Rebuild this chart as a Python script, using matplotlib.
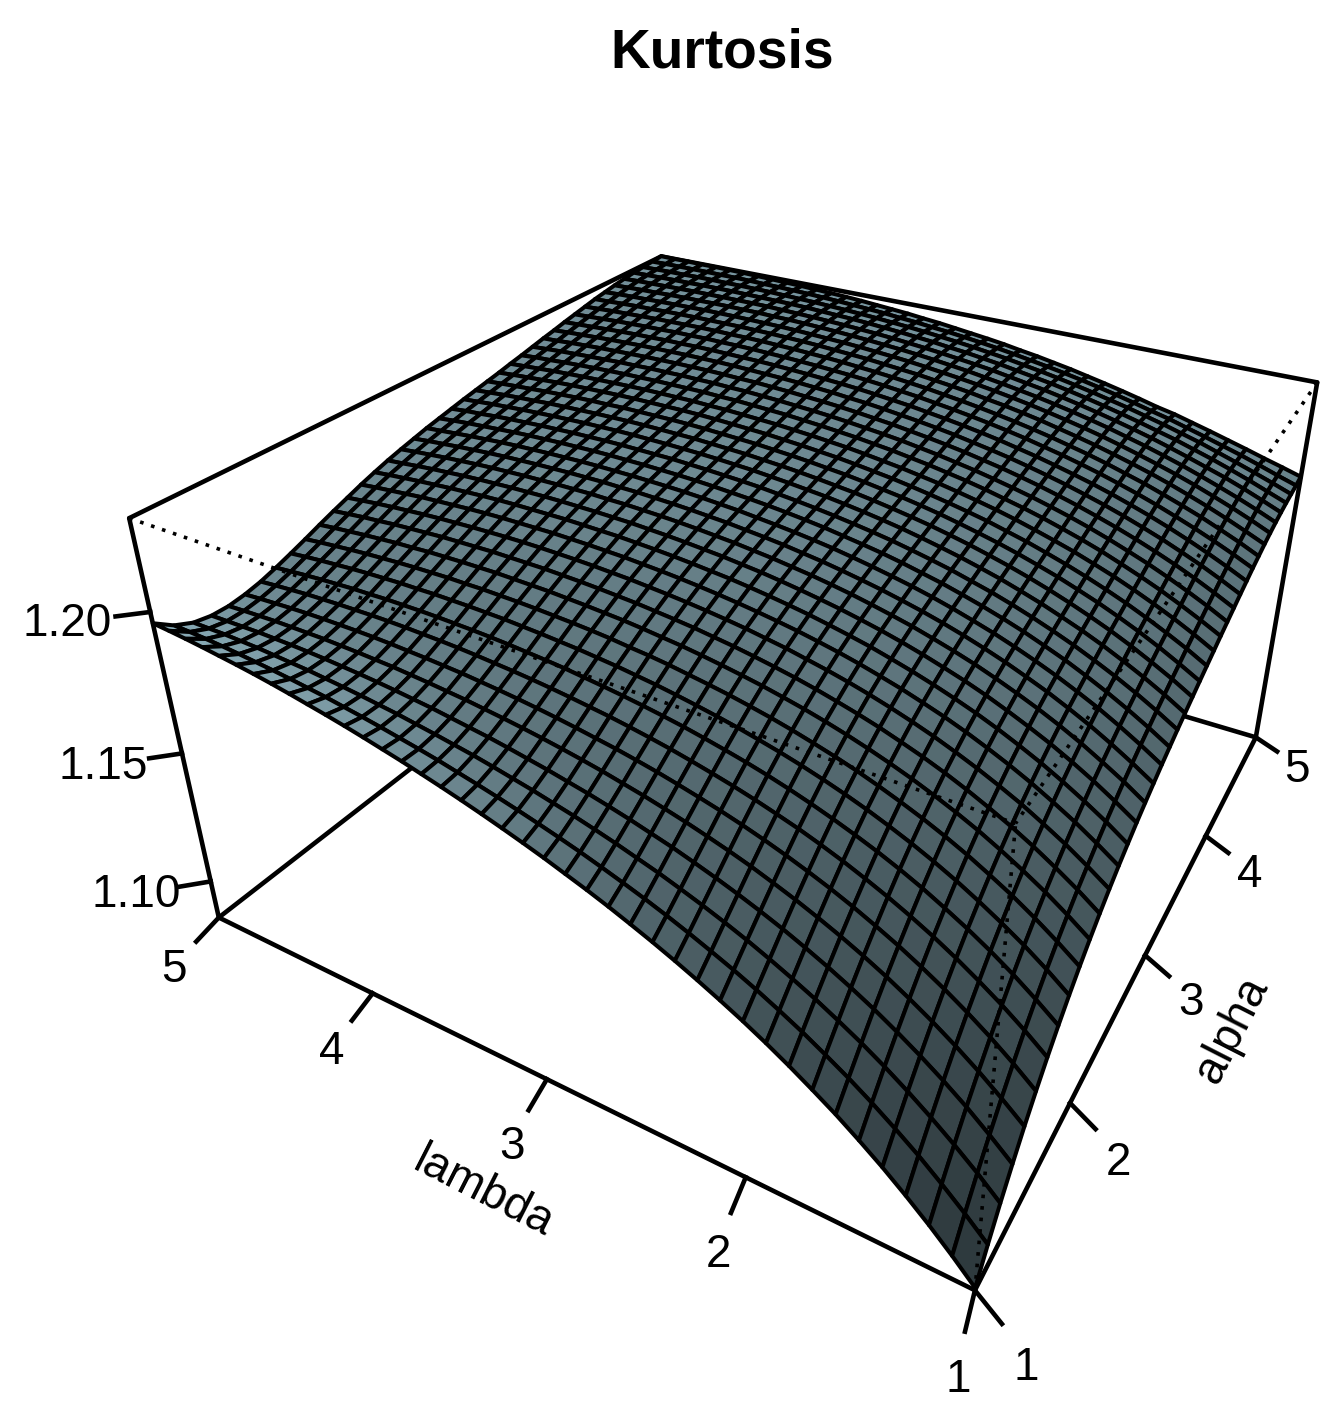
import numpy as np
import matplotlib
matplotlib.use('Agg')
import matplotlib.pyplot as plt
from matplotlib.collections import PolyCollection

plt.rcParams['font.family'] = ['Liberation Sans']

title = 'Kurtosis'
x_label = 'lambda'
y_label = 'alpha'
axis_ticks = [1, 2, 3, 4, 5]
z_ticks = [1.10, 1.15, 1.20]
z_lim = (1.085, 1.2305)
lam = [1 + 0.1 * k for k in range(41)]
alpha = [1 + 0.1 * k for k in range(41)]

# kurtosis, as (value - 1.08) * 10000; one row per lambda, one column per alpha
kurtosis_e4 = [
[59,143,221,292,359,419,475,526,573,616,655,691,724,754,781,807,830,852,873,892,911,928,945,962,978,994,1010,1025,1040,1055,1069,1083,1095,1107,1117,1126,1133,1139,1143,1147,1152],
[134,214,289,357,421,480,534,583,629,670,708,743,774,803,830,854,877,897,917,935,953,970,986,1001,1017,1032,1046,1061,1075,1089,1102,1115,1127,1137,1147,1155,1161,1165,1168,1169,1172],
[204,280,351,418,479,536,588,636,680,720,757,790,821,849,874,898,919,939,958,975,992,1008,1023,1038,1052,1067,1080,1094,1108,1121,1133,1145,1156,1166,1175,1182,1188,1191,1192,1192,1191],
[269,342,409,473,532,587,637,684,726,766,801,834,863,890,915,938,959,978,996,1012,1028,1043,1058,1072,1085,1099,1112,1125,1138,1150,1162,1173,1184,1193,1201,1207,1213,1215,1215,1214,1211],
[330,398,463,524,581,634,683,728,769,807,842,874,903,929,953,975,995,1013,1030,1046,1061,1076,1090,1103,1116,1129,1141,1154,1166,1178,1189,1199,1209,1218,1226,1231,1235,1238,1237,1234,1230],
[386,451,513,571,626,677,725,768,809,846,880,910,938,964,987,1008,1028,1046,1062,1078,1092,1106,1119,1132,1144,1157,1168,1180,1192,1203,1214,1224,1233,1242,1249,1254,1257,1259,1259,1254,1249],
[439,500,559,615,668,717,763,806,845,881,914,944,971,996,1019,1039,1058,1075,1091,1106,1120,1133,1146,1158,1170,1182,1194,1205,1216,1227,1237,1247,1256,1264,1270,1275,1278,1280,1278,1273,1267],
[487,545,601,655,706,753,798,840,878,913,945,975,1001,1026,1048,1068,1086,1103,1118,1133,1146,1159,1171,1183,1194,1206,1217,1228,1238,1249,1259,1268,1276,1284,1290,1295,1298,1298,1297,1292,1285],
[533,588,641,692,741,787,830,871,908,942,974,1003,1029,1053,1074,1094,1112,1128,1143,1157,1170,1182,1194,1205,1216,1227,1238,1249,1259,1269,1279,1288,1296,1303,1309,1313,1316,1316,1314,1308,1299],
[576,627,677,726,773,818,860,899,936,969,1000,1028,1054,1077,1098,1117,1135,1151,1165,1179,1192,1204,1215,1226,1237,1247,1258,1268,1278,1288,1297,1306,1314,1321,1327,1331,1333,1333,1331,1325,1316],
[616,664,711,758,803,846,887,925,961,994,1024,1052,1077,1100,1120,1139,1156,1172,1186,1199,1211,1223,1234,1245,1255,1266,1276,1286,1296,1305,1314,1323,1330,1337,1343,1347,1349,1349,1346,1341,1332],
[653,698,743,787,830,872,912,949,984,1016,1046,1073,1098,1120,1140,1159,1176,1191,1205,1218,1230,1241,1252,1262,1273,1283,1292,1302,1312,1321,1330,1338,1346,1352,1358,1362,1364,1364,1361,1356,1347],
[688,729,772,814,856,896,934,971,1005,1036,1066,1092,1117,1139,1159,1177,1193,1208,1222,1234,1246,1257,1268,1278,1288,1298,1308,1317,1327,1336,1344,1353,1360,1367,1372,1376,1378,1378,1375,1370,1361],
[721,759,799,839,879,918,955,991,1024,1055,1084,1110,1134,1156,1175,1193,1209,1224,1237,1250,1261,1272,1283,1293,1302,1312,1322,1331,1340,1349,1358,1366,1373,1380,1385,1389,1391,1391,1388,1383,1375],
[752,787,824,862,900,938,974,1009,1041,1072,1100,1126,1149,1171,1190,1208,1224,1238,1251,1264,1275,1286,1296,1306,1315,1325,1334,1343,1353,1361,1370,1378,1385,1392,1397,1400,1402,1402,1400,1395,1387],
[781,813,848,884,920,956,991,1025,1057,1087,1115,1140,1164,1185,1204,1221,1237,1251,1264,1276,1287,1298,1308,1318,1327,1336,1346,1355,1364,1373,1381,1389,1396,1402,1408,1411,1413,1413,1411,1406,1399],
[809,837,869,903,938,973,1007,1040,1071,1101,1128,1153,1176,1197,1216,1233,1249,1263,1276,1287,1298,1309,1319,1328,1338,1347,1356,1365,1374,1383,1391,1399,1406,1413,1418,1421,1424,1424,1422,1417,1409],
[835,860,890,922,955,989,1022,1054,1084,1113,1140,1165,1188,1208,1227,1244,1259,1273,1286,1298,1308,1319,1329,1338,1347,1356,1366,1375,1383,1392,1400,1408,1415,1422,1427,1431,1433,1433,1431,1427,1420],
[859,882,909,939,970,1003,1035,1066,1096,1124,1151,1175,1198,1218,1237,1254,1269,1283,1295,1307,1317,1328,1337,1347,1356,1365,1374,1383,1392,1400,1409,1417,1424,1430,1435,1439,1441,1442,1440,1436,1429],
[883,902,927,955,985,1016,1047,1077,1107,1135,1161,1185,1207,1227,1246,1262,1277,1291,1303,1315,1325,1335,1345,1354,1364,1373,1382,1390,1399,1408,1416,1424,1431,1438,1443,1447,1449,1449,1448,1444,1437],
[905,921,943,969,998,1027,1058,1087,1116,1144,1169,1193,1215,1235,1253,1270,1285,1298,1310,1322,1332,1342,1352,1361,1370,1379,1388,1397,1406,1415,1423,1431,1438,1444,1450,1454,1456,1457,1455,1452,1445],
[926,939,959,983,1010,1038,1067,1096,1125,1151,1177,1200,1222,1242,1260,1276,1291,1305,1317,1328,1339,1348,1358,1367,1376,1385,1394,1403,1412,1420,1429,1437,1444,1450,1456,1460,1462,1463,1462,1458,1453],
[946,956,973,995,1021,1048,1076,1104,1132,1159,1184,1207,1228,1248,1266,1282,1297,1310,1322,1333,1344,1354,1363,1372,1381,1390,1399,1408,1417,1426,1434,1442,1449,1456,1461,1465,1468,1469,1468,1465,1459],
[965,972,987,1007,1031,1057,1084,1112,1139,1165,1189,1212,1234,1253,1271,1287,1302,1315,1327,1338,1348,1358,1368,1377,1386,1395,1404,1412,1421,1430,1438,1446,1454,1460,1466,1470,1473,1474,1473,1470,1466],
[983,987,1000,1018,1040,1065,1091,1118,1144,1170,1194,1217,1238,1258,1275,1291,1306,1319,1331,1342,1352,1362,1371,1380,1389,1398,1407,1416,1425,1434,1442,1450,1458,1464,1470,1474,1477,1479,1478,1476,1471],
[1000,1002,1011,1027,1048,1072,1097,1123,1149,1174,1198,1221,1242,1261,1279,1295,1309,1322,1334,1345,1355,1365,1374,1383,1392,1401,1410,1419,1428,1437,1445,1453,1461,1468,1473,1478,1481,1483,1482,1480,1476],
[1017,1015,1022,1036,1056,1078,1102,1128,1153,1178,1202,1224,1245,1264,1281,1297,1312,1325,1336,1347,1358,1367,1377,1386,1395,1404,1413,1422,1431,1439,1448,1456,1464,1471,1476,1481,1484,1486,1486,1484,1481],
[1032,1027,1032,1045,1062,1084,1107,1132,1157,1181,1204,1227,1247,1266,1283,1299,1313,1326,1338,1349,1359,1369,1378,1388,1397,1405,1414,1423,1432,1441,1450,1458,1466,1473,1479,1484,1487,1489,1489,1488,1485],
[1047,1039,1042,1052,1068,1088,1111,1135,1159,1183,1206,1228,1249,1268,1285,1300,1315,1328,1339,1350,1360,1370,1379,1389,1398,1407,1416,1425,1434,1443,1451,1460,1468,1475,1481,1486,1489,1492,1492,1491,1488],
[1061,1050,1050,1059,1073,1092,1114,1137,1161,1185,1208,1229,1250,1268,1285,1301,1315,1328,1340,1351,1361,1371,1380,1389,1398,1407,1416,1425,1435,1444,1452,1461,1469,1476,1482,1487,1491,1494,1494,1494,1491],
[1074,1060,1058,1065,1078,1095,1116,1139,1162,1185,1208,1230,1250,1268,1285,1301,1315,1328,1340,1351,1361,1371,1380,1389,1398,1407,1416,1426,1435,1444,1453,1461,1469,1477,1483,1489,1493,1495,1496,1496,1494],
[1086,1070,1065,1070,1081,1098,1118,1140,1163,1186,1208,1229,1249,1268,1285,1300,1314,1327,1339,1350,1360,1370,1379,1389,1398,1407,1416,1425,1435,1444,1453,1462,1470,1477,1484,1489,1494,1496,1498,1498,1496],
[1098,1078,1071,1074,1084,1100,1119,1140,1162,1185,1207,1228,1248,1267,1284,1299,1313,1326,1338,1349,1359,1369,1378,1387,1397,1406,1415,1425,1434,1443,1452,1461,1470,1477,1484,1490,1494,1497,1499,1499,1498],
[1109,1086,1077,1078,1086,1101,1119,1140,1162,1184,1206,1227,1246,1265,1282,1297,1311,1324,1336,1347,1357,1367,1376,1386,1395,1404,1414,1423,1433,1442,1452,1461,1469,1477,1484,1490,1494,1498,1500,1501,1500],
[1119,1093,1081,1081,1088,1101,1118,1138,1160,1182,1203,1224,1244,1262,1279,1295,1309,1322,1334,1345,1355,1365,1374,1384,1393,1402,1412,1422,1431,1441,1450,1459,1468,1476,1483,1489,1494,1498,1500,1502,1502],
[1128,1099,1085,1083,1088,1101,1117,1137,1158,1179,1201,1221,1241,1259,1276,1292,1306,1319,1331,1342,1352,1362,1372,1381,1391,1400,1410,1419,1429,1439,1449,1458,1467,1475,1482,1489,1494,1498,1501,1502,1503],
[1136,1105,1089,1084,1088,1100,1115,1134,1155,1176,1197,1218,1237,1256,1272,1288,1302,1315,1327,1338,1349,1359,1368,1378,1388,1397,1407,1417,1427,1437,1447,1456,1465,1473,1481,1488,1493,1497,1501,1503,1504],
[1144,1110,1091,1085,1088,1098,1113,1131,1151,1172,1193,1213,1233,1251,1268,1284,1298,1311,1323,1334,1345,1355,1365,1374,1384,1394,1404,1414,1424,1434,1444,1454,1463,1472,1479,1486,1492,1497,1500,1503,1504],
[1151,1114,1093,1084,1086,1095,1109,1127,1147,1167,1188,1209,1228,1246,1263,1279,1293,1306,1318,1330,1340,1351,1361,1370,1380,1390,1400,1411,1421,1431,1441,1451,1461,1470,1478,1485,1491,1496,1500,1503,1505],
[1157,1117,1093,1083,1084,1092,1105,1122,1142,1162,1183,1203,1222,1241,1258,1273,1288,1301,1313,1325,1336,1346,1356,1366,1376,1386,1397,1407,1417,1428,1438,1448,1458,1467,1476,1483,1490,1495,1499,1503,1505],
[1162,1119,1093,1082,1081,1088,1100,1117,1136,1156,1177,1197,1216,1235,1252,1268,1282,1295,1308,1319,1330,1341,1351,1361,1371,1382,1392,1403,1414,1424,1435,1445,1455,1465,1473,1481,1488,1494,1498,1502,1506],
]

# camera: homogeneous view matrix for the unit-cube coordinates of the persp box
camera = np.array([[-258.8305535, 358.3228177, -52.5357216, 779.0376633],
                   [-34.9053849, -59.1456305, -230.2372388, 644.5783342],
                   [0.1145010, 0.2013463, -0.0667503, 1.0]])

L0, L1 = min(lam), max(lam)
A0, A1 = min(alpha), max(alpha)
z0, z1 = z_lim
lr, ar = L1 - L0, A1 - A0


def unit(l, a, z):
    l, a, z = np.asarray(l, float), np.asarray(a, float), np.asarray(z, float)
    return 2 * (l - L0) / lr - 1, 2 * (a - A0) / ar - 1, 2 * (z - z0) / (z1 - z0) - 1


def proj(l, a, z):
    x, y, w = unit(l, a, z)
    H = np.stack([x, y, w, np.ones_like(x * y * w)], -1) @ camera.T
    return H[..., 0] / H[..., 2], H[..., 1] / H[..., 2]


fig = plt.figure(figsize=(13.44, 14.14), dpi=100)
ax = fig.add_axes([0, 0, 1, 1])
ax.set_xlim(0, 1344)
ax.set_ylim(1414, 0)
ax.axis('off')

LW_BOX = 3.3


def edge(p, q, **kw):
    x, y = proj(*zip(p, q))
    ax.plot(x, y, color='k', **kw)


for p, q in [((L1, A0, z0), (L1, A1, z0)), ((L1, A1, z0), (L0, A1, z0)),
             ((L1, A0, z0), (L0, A0, z0)), ((L0, A0, z0), (L0, A1, z0)),
             ((L1, A0, z0), (L1, A0, z1)), ((L0, A1, z0), (L0, A1, z1)),
             ((L1, A0, z1), (L1, A1, z1)), ((L1, A1, z1), (L0, A1, z1))]:
    edge(p, q, lw=LW_BOX, zorder=1, solid_capstyle='round')

Z = 1.08 + np.array(kurtosis_e4, float) / 1e4
LL, AA = np.meshgrid(lam, alpha, indexing='ij')
X, Y = proj(LL, AA, Z)
UX, UY, UZ = unit(LL, AA, Z)

base = np.array([173, 216, 230]) / 255
light = np.array([0.35, 0.6, 0.72])
light = light / np.linalg.norm(light)
polys, colors, depth = [], [], []
n_l, n_a = Z.shape
for i in range(n_l - 1):
    for j in range(n_a - 1):
        polys.append([(X[i, j], Y[i, j]), (X[i + 1, j], Y[i + 1, j]),
                      (X[i + 1, j + 1], Y[i + 1, j + 1]), (X[i, j + 1], Y[i, j + 1])])
        dx = UX[i + 1, j] - UX[i, j]
        dy = UY[i, j + 1] - UY[i, j]
        zl = (UZ[i + 1, j] + UZ[i + 1, j + 1] - UZ[i, j] - UZ[i, j + 1]) / 2 / dx
        za = (UZ[i, j + 1] + UZ[i + 1, j + 1] - UZ[i, j] - UZ[i + 1, j]) / 2 / dy
        n = np.array([-0.5 * zl, -0.5 * za, 1.0])
        n = n / np.linalg.norm(n)
        colors.append(base * ((1 + n @ light) / 2) ** 1.3 * 0.84)
        depth.append(camera[2, 0] * (UX[i, j] + UX[i + 1, j]) / 2 + camera[2, 1] * (UY[i, j] + UY[i, j + 1]) / 2)
order = np.argsort(depth)[::-1]
ax.add_collection(PolyCollection([polys[k] for k in order],
                                 facecolors=[colors[k] for k in order],
                                 edgecolors='k', linewidths=2.9, joinstyle='round', zorder=2))

for p, q in [((L1, A0, z1), (L0, A0, z1)), ((L0, A1, z1), (L0, A0, z1)), ((L0, A0, z0), (L0, A0, z1))]:
    edge(p, q, lw=2.6, linestyle=(0, (1, 2.2)), zorder=3)

FS = 33
for v in axis_ticks:
    x, y = proj([v, v - 0.035], [A0, A0 - 0.17], [z0, z0])
    ax.plot(x, y, 'k', lw=LW_BOX, zorder=1)
    x, y = proj(v - 0.09, A0 - 0.35, z0)
    ax.text(x, y, str(v), fontsize=FS, ha='center', va='center')
    x, y = proj([L0, L0 - 0.14], [v, v - 0.075], [z0, z0])
    ax.plot(x, y, 'k', lw=LW_BOX, zorder=1)
    x, y = proj(L0 - 0.28, v - 0.19, z0)
    ax.text(x, y, str(v), fontsize=FS, ha='center', va='center')
for v in z_ticks:
    x, y = proj([L1, L1 + 0.1], [A0, A0 - 0.1], [v, v])
    ax.plot(x, y, 'k', lw=LW_BOX, zorder=1)
    x, y = proj(L1 + 0.24, A0 - 0.24, v - 0.0005)
    ax.text(x, y, f'{v:.2f}', fontsize=FS, ha='center', va='center')

ax.text(722, 54, title, fontsize=39.7, fontweight='bold', ha='center', va='center')
ax.text(483, 1192, x_label, fontsize=FS, rotation=-27, rotation_mode='anchor', ha='center', va='center')
ax.text(1232, 1030, y_label, fontsize=FS, rotation=63, rotation_mode='anchor', ha='center', va='center')
fig.savefig('out.png', dpi=100)
